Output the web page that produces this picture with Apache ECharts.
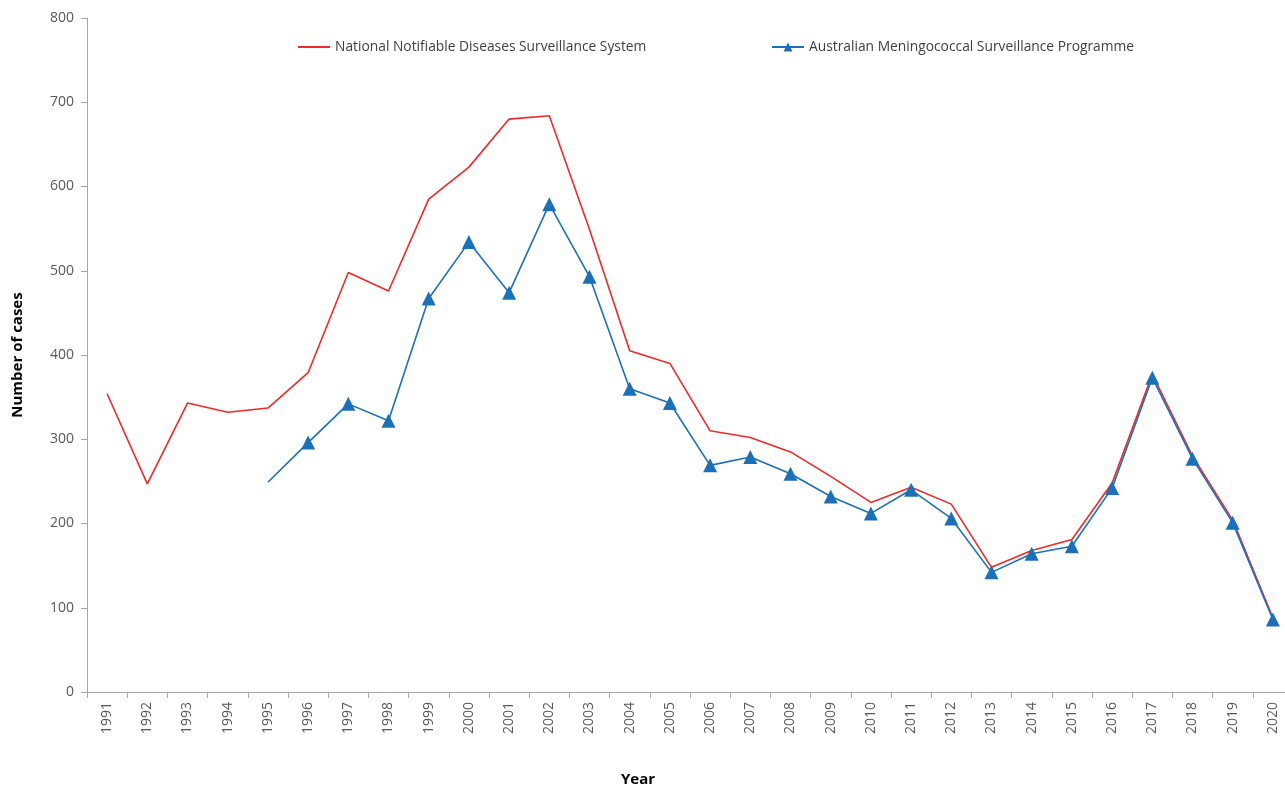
<!DOCTYPE html>
<html>
<head>
<meta charset="utf-8">
<script src="https://cdn.jsdelivr.net/npm/echarts@6/dist/echarts.min.js"></script>
<style>
  html, body { margin: 0; padding: 0; background: #fff; overflow: hidden; }
  /* the original chart runs slightly past the right edge of the picture */
  #chart { width: 1294px; height: 789px; }
</style>
</head>
<body>
<div id="chart"></div>
<script>
// years on the x axis
var years = ['1991', '1992', '1993', '1994', '1995', '1996', '1997', '1998', '1999', '2000',
  '2001', '2002', '2003', '2004', '2005', '2006', '2007', '2008', '2009', '2010',
  '2011', '2012', '2013', '2014', '2015', '2016', '2017', '2018', '2019', '2020'];

// National Notifiable Diseases Surveillance System
var nndss = [354, 247, 343, 332, 337, 379, 498, 476, 585, 623,
  680, 684, 549, 405, 390, 310, 302, 285, 256, 225,
  243, 223, 148, 168, 181, 248, 377, 280, 204, 88];

// Australian Meningococcal Surveillance Programme (starts 1995)
var amsp = [null, null, null, null, 249, 296, 342, 322, 467, 534,
  474, 579, 493, 360, 343, 269, 279, 259, 232, 212,
  240, 206, 142, 164, 173, 242, 373, 277, 201, 86];

var yTicks = [0, 100, 200, 300, 400, 500, 600, 700, 800];

var nndssName = 'National Notifiable Diseases Surveillance System';
var amspName = 'Australian Meningococcal Surveillance Programme';

var chart = echarts.init(document.getElementById('chart'));

// 1995 point has no marker in the original
var amspData = amsp.map(function (v, i) {
  if (i === 4) return { value: v, symbol: 'none' };
  return v;
});

var font = '"Open Sans", "DejaVu Sans", sans-serif';
var legendText = { fontSize: 13.8, color: '#404040', fontFamily: font };

chart.setOption({
  animation: false,
  textStyle: { fontFamily: font },
  grid: { left: 87, right: 1, top: 18, bottom: 97, containLabel: false },
  legend: [
    {
      data: [{ name: nndssName, icon: 'rect' }],
      left: 298, top: 40,
      padding: 0,
      itemWidth: 32, itemHeight: 2,
      itemGap: 3,
      textStyle: legendText
    },
    {
      data: [amspName],
      left: 771, top: 40,
      padding: 0,
      itemWidth: 32, itemHeight: 11,
      textStyle: legendText
    }
  ],
  graphic: [
    {
      type: 'text',
      x: 638, y: 780,
      style: {
        text: 'Year',
        fontSize: 15, fontWeight: 'bold', fill: '#000', fontFamily: font,
        align: 'center', verticalAlign: 'middle'
      }
    }
  ],
  xAxis: {
    type: 'category',
    data: years,
    boundaryGap: true,
    axisLine: { lineStyle: { color: '#a6a6a6', width: 1 } },
    axisTick: { show: true, length: 6, alignWithLabel: false, lineStyle: { color: '#a6a6a6' } },
    axisLabel: { rotate: 90, fontSize: 14, color: '#595959', margin: 10, interval: 0 },
    splitLine: { show: false }
  },
  yAxis: {
    type: 'value',
    min: yTicks[0],
    max: yTicks[yTicks.length - 1],
    interval: 100,
    name: 'Number of cases',
    nameLocation: 'middle',
    nameGap: 62,
    nameTextStyle: { fontSize: 15, fontWeight: 'bold', color: '#000' },
    axisLine: { show: true, lineStyle: { color: '#a6a6a6', width: 1 } },
    axisTick: { show: true, length: 6, lineStyle: { color: '#a6a6a6' } },
    axisLabel: { fontSize: 14, color: '#595959', margin: 13 },
    splitLine: { show: false }
  },
  series: [
    {
      name: nndssName,
      type: 'line',
      data: nndss,
      symbol: 'none',
      lineStyle: { color: '#ee2a2a', width: 1.6 },
      itemStyle: { color: '#ee2a2a' }
    },
    {
      name: amspName,
      type: 'line',
      data: amspData,
      symbol: 'triangle',
      symbolSize: 14,
      connectNulls: false,
      lineStyle: { color: '#1c70b9', width: 1.6 },
      itemStyle: { color: '#1c70b9' }
    }
  ]
});
</script>
</body>
</html>
